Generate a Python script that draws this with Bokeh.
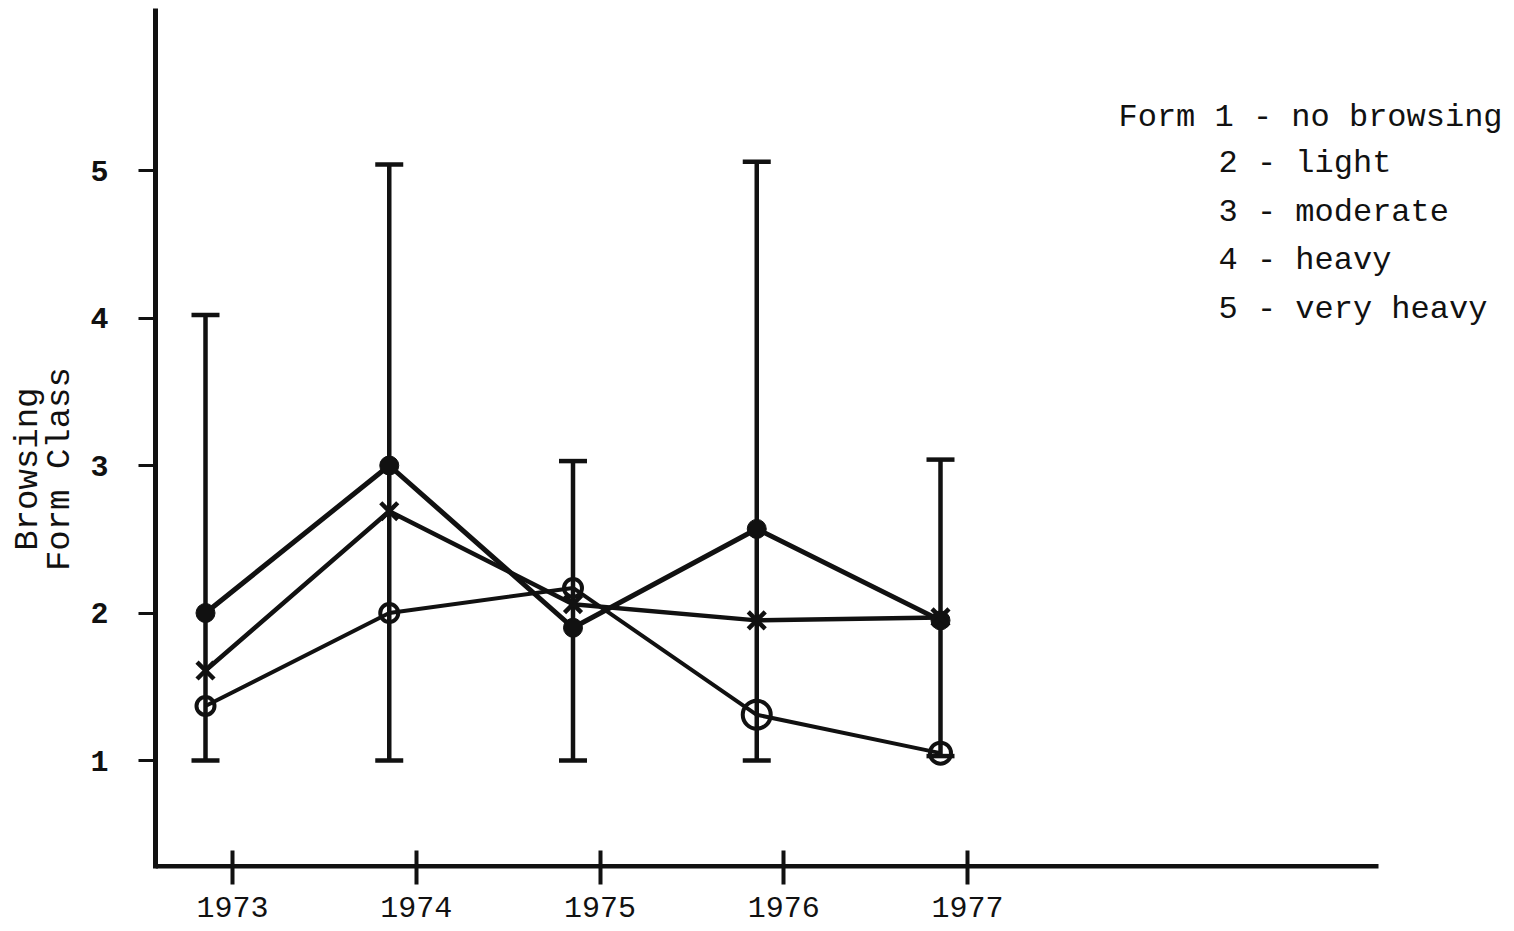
import math
from bokeh.plotting import figure
from bokeh.models import Range1d, Label, Whisker, TeeHead, ColumnDataSource, FixedTicker
from bokeh.embed import file_html
from bokeh.resources import INLINE

# ---------------- data ----------------
years = [1973, 1974, 1975, 1976, 1977]
filled_dot_mean = [2.0, 3.0, 1.9, 2.57, 1.95]
cross_mean = [1.61, 2.69, 2.06, 1.95, 1.97]
open_circle_mean = [1.37, 2.0, 2.17, 1.31, 1.05]
range_low = [1.0, 1.0, 1.0, 1.0, 1.03]
range_high = [4.02, 5.04, 3.03, 5.06, 3.04]
year_labels = ["1973", "1974", "1975", "1976", "1977"]
y_ticks = [1, 2, 3, 4, 5]
legend_first = "Form 1 - no browsing"
legend_rest = ["2 - light", "3 - moderate", "4 - heavy", "5 - very heavy"]
y_label_lines = ["Browsing", "Form Class"]

# ---------------- layout helpers (pixel -> data) ----------------
X0_PX, X_PER_YEAR = 205.0, 183.75      # 1973 data point at px 205
Y1_PX, Y_PER_UNIT = 760.0, 147.5       # value 1 at px 760
FRAME_L, FRAME_T, FRAME_B, W, H = 155, 8, 868, 1514, 931

def xd(px):
    return 1973 + (px - X0_PX) / X_PER_YEAR

def yd(py):
    return 1 + (Y1_PX - py) / Y_PER_UNIT

x_start, x_end = xd(FRAME_L), xd(W)
y_start, y_end = yd(FRAME_B), yd(FRAME_T)
tick_offset = 27 / X_PER_YEAR

p = figure(width=W, height=H, x_range=Range1d(x_start, x_end), y_range=Range1d(y_start, y_end),
           output_backend="svg", toolbar_location=None,
           min_border_left=FRAME_L, min_border_right=0, min_border_top=FRAME_T,
           min_border_bottom=H - FRAME_B)
p.outline_line_color = None
p.xgrid.visible = False
p.ygrid.visible = False
p.background_fill_color = "white"
p.border_fill_color = "white"

INK = "#111111"
FONT = "Liberation Mono"
NB = "\u00a0"

# y axis
p.yaxis.ticker = FixedTicker(ticks=y_ticks)
p.yaxis.axis_line_width = 5
p.yaxis.axis_line_color = INK
p.yaxis.major_tick_line_width = 3
p.yaxis.major_tick_line_color = INK
p.yaxis.major_tick_in = 0
p.yaxis.major_tick_out = 17
p.yaxis.minor_tick_line_color = None
p.yaxis.major_label_standoff = 30
p.yaxis.major_label_text_font = FONT
p.yaxis.major_label_text_font_size = "30px"
p.yaxis.major_label_text_color = INK
p.yaxis.major_label_text_font_style = "bold"
p.yaxis.axis_label = (y_label_lines[0] + NB * 3) + "\n" + (y_label_lines[1] + NB * 3)
p.yaxis.axis_label_text_font = FONT
p.yaxis.axis_label_text_font_size = "34px"
p.yaxis.axis_label_text_font_style = "normal"
p.yaxis.axis_label_text_color = INK
p.yaxis.axis_label_text_line_height = 0.86
p.yaxis.axis_label_standoff = 8
p.yaxis.axis_label_text_align = "center"

# x axis (ticks crossing; line drawn separately so that it stops short)
tick_pos = [y + tick_offset for y in years]
p.xaxis.ticker = FixedTicker(ticks=tick_pos)
p.xaxis.major_label_overrides = {t: lab for t, lab in zip(tick_pos, year_labels)}
p.xaxis.axis_line_color = None
p.xaxis.major_tick_line_width = 4
p.xaxis.major_tick_line_color = INK
p.xaxis.major_tick_in = 18
p.xaxis.major_tick_out = 16
p.xaxis.minor_tick_line_color = None
p.xaxis.major_label_standoff = 12
p.xaxis.major_label_text_font = FONT
p.xaxis.major_label_text_font_size = "30px"
p.xaxis.major_label_text_color = INK

p.segment(x0=[x_start], y0=[y_start + 0.014], x1=[xd(1378)], y1=[y_start + 0.014],
          line_width=5, line_color=INK)

# error bars
src = ColumnDataSource(dict(x=years, lo=range_low, hi=range_high))
wh = Whisker(source=src, base="x", lower="lo", upper="hi", line_width=4.5, line_color=INK,
             upper_head=TeeHead(size=28, line_width=4.5, line_color=INK),
             lower_head=TeeHead(size=28, line_width=4.5, line_color=INK))
wh.level = "underlay"
p.add_layout(wh)

# series lines
p.line(years, filled_dot_mean, line_width=5, line_color=INK)
p.line(years, cross_mean, line_width=4.5, line_color=INK)
p.line(years, open_circle_mean, line_width=4, line_color=INK)

# markers
p.scatter(years, filled_dot_mean, marker="circle", size=19, fill_color=INK, line_color=INK)
p.scatter(years, cross_mean, marker="x", size=24, line_width=4.5, line_color=INK)
circle_sizes = [18, 18, 18, 28, 21]
p.scatter(years, open_circle_mean, marker="circle", size=circle_sizes, fill_alpha=0,
          line_width=4, line_color=INK)

# legend text (key)
p.add_layout(Label(x=xd(1118), y=yd(117), text=legend_first, text_font=FONT,
                   text_font_size="32px", text_color=INK, text_baseline="middle"))
for i, t in enumerate(legend_rest):
    p.add_layout(Label(x=xd(1218), y=yd(163 + i * 48.5), text=t, text_font=FONT,
                       text_font_size="32px", text_color=INK, text_baseline="middle"))

open("out.html", "w").write(file_html(p, INLINE))
